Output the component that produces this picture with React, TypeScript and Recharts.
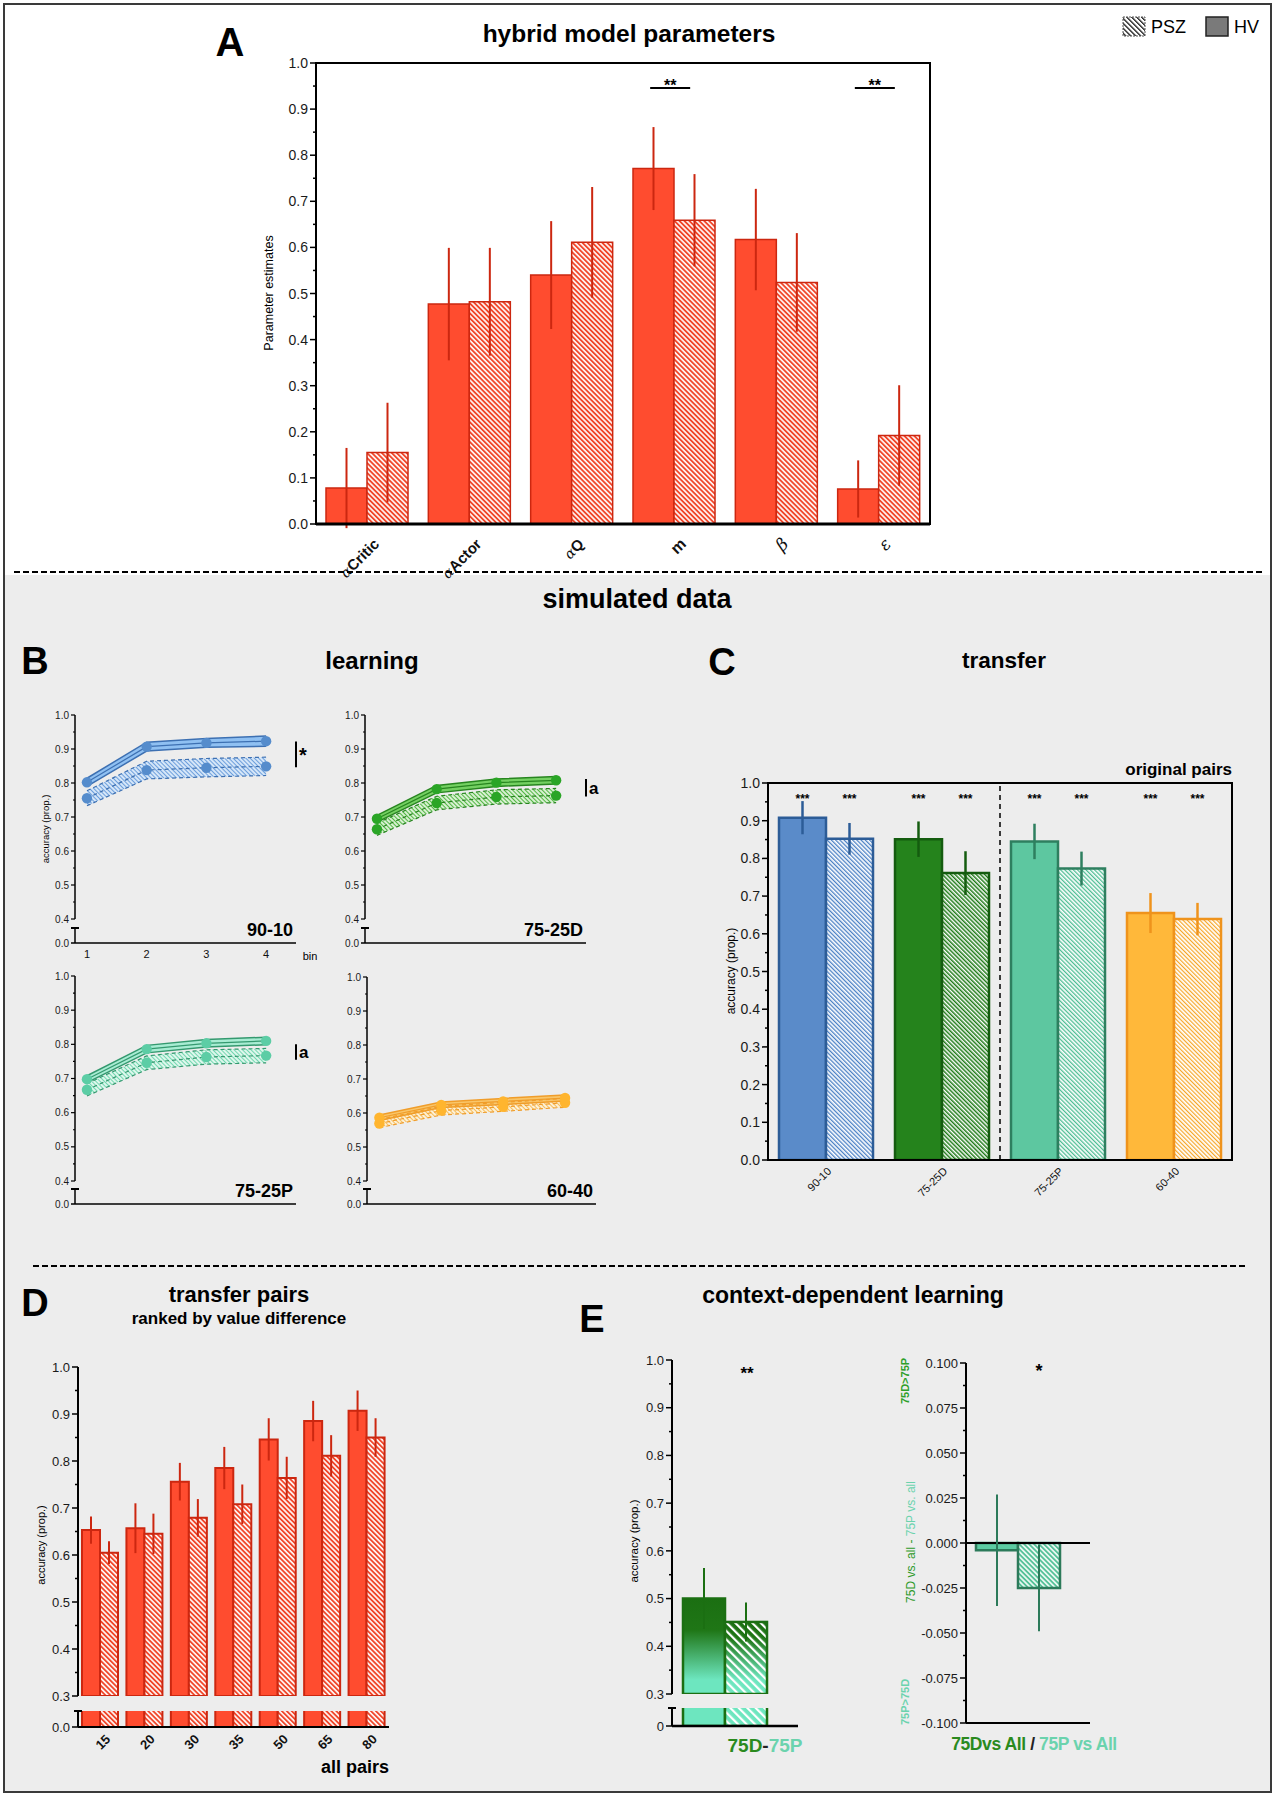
import React from 'react';
import { ComposedChart, Bar, XAxis, YAxis, ErrorBar, Scatter, ReferenceLine, ReferenceArea, Line, Area } from 'recharts';

const FONT = "'Liberation Sans', Arial, Helvetica, sans-serif";

/* ---------------- Panel A data ---------------- */
const paramCategories = ['αCritic', 'αActor', 'αQ', 'm', 'β', 'ε'];
const hvParamValues = [0.078, 0.477, 0.54, 0.771, 0.617, 0.076];
const hvParamErrors = [0.087, 0.122, 0.117, 0.09, 0.11, 0.062];
const pszParamValues = [0.155, 0.482, 0.611, 0.659, 0.524, 0.192];
const pszParamErrors = [0.108, 0.117, 0.12, 0.1, 0.107, 0.109];
const paramSignificance = ['', '', '', '**', '', '**'];
const paramSigLevel = 0.946;
const ticks0to1 = [0, 0.05, 0.1, 0.15, 0.2, 0.25, 0.3, 0.35, 0.4, 0.45, 0.5, 0.55, 0.6, 0.65, 0.7, 0.75, 0.8, 0.85, 0.9, 0.95, 1];

/* ---------------- Panel B data ---------------- */
const learnBins = [1, 2, 3, 4];
const learnPairNames = ['90-10', '75-25D', '75-25P', '60-40'];
const hvLearn9010 = [0.802, 0.907, 0.918, 0.923];
const hvBand9010 = [0.012, 0.013, 0.013, 0.015];
const pszLearn9010 = [0.755, 0.838, 0.845, 0.849];
const pszBand9010 = [0.022, 0.026, 0.027, 0.027];
const hvLearn7525D = [0.695, 0.782, 0.801, 0.808];
const hvBand7525D = [0.01, 0.011, 0.011, 0.011];
const pszLearn7525D = [0.664, 0.741, 0.759, 0.763];
const pszBand7525D = [0.018, 0.02, 0.021, 0.021];
const hvLearn7525P = [0.698, 0.786, 0.803, 0.81];
const hvBand7525P = [0.01, 0.011, 0.011, 0.011];
const pszLearn7525P = [0.667, 0.746, 0.763, 0.767];
const pszBand7525P = [0.018, 0.02, 0.021, 0.021];
const hvLearn6040 = [0.586, 0.624, 0.634, 0.644];
const hvBand6040 = [0.008, 0.008, 0.009, 0.009];
const pszLearn6040 = [0.569, 0.607, 0.618, 0.63];
const pszBand6040 = [0.012, 0.013, 0.013, 0.013];
const learnSigText = ['*', 'a', 'a', ''];
const learnSigLow = [0.846, 0.76, 0.755, 0];
const learnSigHigh = [0.922, 0.812, 0.8, 0];
const learnBinEdge = 4.5;
const learnTicks = [0.4, 0.45, 0.5, 0.55, 0.6, 0.65, 0.7, 0.75, 0.8, 0.85, 0.9, 0.95, 1];

/* ---------------- Panel C data ---------------- */
const transferCategories = ['90-10', '75-25D', '75-25P', '60-40'];
const hvTransfer = [0.908, 0.851, 0.845, 0.655];
const hvTransferErr = [0.044, 0.047, 0.047, 0.053];
const pszTransfer = [0.852, 0.761, 0.773, 0.639];
const pszTransferErr = [0.042, 0.058, 0.045, 0.043];
const transferGroupSig = ['a', '*', '*', ''];
const transferBarSig = ['***', '***', '***', '***'];
const transferBarSigLevel = 0.961;
const transferDividerBefore = '75-25P';

/* ---------------- Panel D data ---------------- */
const pairCategories = ['15', '20', '30', '35', '50', '65', '80'];
const hvPairs = [0.653, 0.657, 0.756, 0.785, 0.846, 0.885, 0.907];
const hvPairsErr = [0.029, 0.053, 0.04, 0.045, 0.045, 0.043, 0.043];
const pszPairs = [0.605, 0.645, 0.679, 0.708, 0.764, 0.811, 0.85];
const pszPairsErr = [0.024, 0.043, 0.04, 0.042, 0.045, 0.044, 0.041];
const pairSignificance = ['**', '', '**', '*', '**', '*', 'a'];
const ticks03to1 = [0.3, 0.35, 0.4, 0.45, 0.5, 0.55, 0.6, 0.65, 0.7, 0.75, 0.8, 0.85, 0.9, 0.95, 1];
const stubTicks = [0, 0.01];

/* ---------------- Panel E data ---------------- */
const contextCategories = ['75D-75P'];
const hvContext = [0.5];
const hvContextErr = [0.064];
const pszContext = [0.451];
const pszContextErr = [0.041];
const contextSig = ['**'];
const contextSigLevel = 0.977;
const diffCategories = ['75D vs All / 75P vs All'];
const hvDiff = [-0.004];
const hvDiffErr = [0.031];
const pszDiff = [-0.025];
const pszDiffErr = [0.024];
const diffSig = ['*'];
const diffSigLevel = 0.097;
const diffTicks = [-0.1, -0.0875, -0.075, -0.0625, -0.05, -0.0375, -0.025, -0.0125, 0, 0.0125, 0.025, 0.0375, 0.05, 0.0625, 0.075, 0.0875, 0.1];

/* ---------------- styles ---------------- */
const RED = '#ff4c2f';
const RED_DARK = '#cc2710';
const transferFill = ['#5a8bc9', '#25831c', '#5dc7a0', '#ffb83a'];
const transferStroke = ['#2c5c97', '#145c0f', '#2e7f5f', '#ef931c'];
const transferHatch = ['url(#hatchBlue)', 'url(#hatchGreen)', 'url(#hatchTeal)', 'url(#hatchOrange)'];
const learnPalettes = [
  { dot: '#558ccc', line: '#3d70b2', band: '#8fc0f2', pszFill: 'url(#bandBlue)' },
  { dot: '#2aa526', line: '#27851f', band: '#74d062', pszFill: 'url(#bandGreen)' },
  { dot: '#5ccda5', line: '#34996f', band: '#a8ecd3', pszFill: 'url(#bandTeal)' },
  { dot: '#ffb52f', line: '#f09d2a', band: '#f9c66a', pszFill: 'url(#bandOrange)' },
];
const DKGREEN = '#1b6f12';
const TEAL_LIGHT = '#6de6bf';
const TEAL_E = '#5ccca2';
const TEAL_E_DARK = '#2c7a5a';

/* ---------------- helpers ---------------- */
function hatch(id: string, line: string, bg: string, size = 4, lw = 2) {
  return (
    <pattern key={id} id={id} patternUnits="userSpaceOnUse" width={size} height={size} patternTransform="rotate(-45)">
      {bg !== 'none' && <rect x={0} y={0} width={size} height={size} fill={bg} />}
      <rect x={0} y={0} width={lw} height={size} fill={line} />
    </pattern>
  );
}

const Defs = () => (
  <svg width={0} height={0} style={{ position: 'absolute', left: 0, top: 0 }}>
    <defs>
      {hatch('hatchRed', '#f0462a', '#fff4f2', 3.5, 1.8)}
      {hatch('hatchBlue', '#4a80c4', '#ffffff', 3, 1.3)}
      {hatch('hatchGreen', '#1e7a17', '#ffffff', 3, 1.5)}
      {hatch('hatchTeal', '#4dbd93', '#ffffff', 3, 1.3)}
      {hatch('hatchOrange', '#f6a628', '#ffffff', 3, 1.2)}
      {hatch('hatchTealE', '#4fbf95', '#e8f7f0', 3.5, 1.7)}
      {hatch('bandBlue', '#6d9fdc', '#d5e6f8', 3, 1)}
      {hatch('bandGreen', '#53b744', '#d8f0d2', 3, 1)}
      {hatch('bandTeal', '#73d7b1', '#def7ec', 3, 1)}
      {hatch('bandOrange', '#f5bd5c', '#fdf0d6', 3, 1)}
      {hatch('stripesWhite', '#ffffff', 'none', 6, 2.2)}
      {hatch('tealStripes', '#ffffff', TEAL_LIGHT, 6, 2.2)}
      {hatch('legendHatch', '#000000', '#ffffff', 3.5, 1.2)}
      <linearGradient id="gradHV" x1="0" y1="0" x2="0" y2="1">
        <stop offset="0" stopColor={DKGREEN} />
        <stop offset="0.33" stopColor="#1f7616" />
        <stop offset="0.85" stopColor={TEAL_LIGHT} />
        <stop offset="1" stopColor={TEAL_LIGHT} />
      </linearGradient>
      <linearGradient id="gradPSZ" x1="0" y1="0" x2="0" y2="1">
        <stop offset="0" stopColor={DKGREEN} />
        <stop offset="0.22" stopColor="#1f7616" />
        <stop offset="0.8" stopColor={TEAL_LIGHT} />
        <stop offset="1" stopColor={TEAL_LIGHT} />
      </linearGradient>
    </defs>
  </svg>
);

type TxtProps = { x: number; y: number; size?: number; bold?: boolean; anchor?: 'start' | 'middle' | 'end'; color?: string; rotate?: number; italic?: boolean; spacing?: number; children: any };
const Txt = ({ x, y, size = 14, bold = false, anchor = 'middle', color = '#000', rotate = 0, italic = false, spacing = 0, children }: TxtProps) => {
  const tx = anchor === 'middle' ? '-50%' : anchor === 'end' ? '-100%' : '0';
  return (
    <div
      style={{
        position: 'absolute', left: x, top: y, transform: `translate(${tx}, -50%) rotate(${rotate}deg)`,
        fontSize: size, fontWeight: bold ? 'bold' : 'normal', fontStyle: italic ? 'italic' : 'normal', color,
        whiteSpace: 'nowrap', lineHeight: 1, fontFamily: FONT, letterSpacing: spacing,
      }}
    >
      {children}
    </div>
  );
};

function makeYTick(fs: number, fmt: (v: number) => string, step: number, majorLen = 6, minorLen = 3, sw = 1.5) {
  return (p: any) => {
    const v = Number(p.payload.value);
    const r = v / step;
    const major = Math.abs(r - Math.round(r)) < 1e-6;
    const len = major ? majorLen : minorLen;
    return (
      <g>
        <line x1={p.x - len} x2={p.x} y1={p.y} y2={p.y} stroke="#000" strokeWidth={sw} />
        {major && (
          <text x={p.x - len - 2} y={p.y} dy={fs * 0.36} textAnchor="end" fontSize={fs} fontFamily={FONT} fill="#1a1a1a">
            {fmt(v)}
          </text>
        )}
      </g>
    );
  };
}

function makeStubTick(fs: number, label: string, tickLen = 6) {
  return (p: any) => {
    const v = Number(p.payload.value);
    if (v === 0) {
      return (
        <g>
          <line x1={p.x - tickLen} x2={p.x} y1={p.y} y2={p.y} stroke="#000" strokeWidth={1.5} />
          <text x={p.x - tickLen - 2} y={p.y} dy={fs * 0.36} textAnchor="end" fontSize={fs} fontFamily={FONT} fill="#1a1a1a">{label}</text>
        </g>
      );
    }
    return <line x1={p.x - 4} x2={p.x + 4} y1={p.y} y2={p.y} stroke="#000" strokeWidth={2} />;
  };
}

function makeRotTick(fs: number, dx: number, dy: number, bold: boolean) {
  return (p: any) => {
    const x = p.x + dx;
    const y = p.y + dy;
    return (
      <text x={x} y={y} transform={`rotate(-45, ${x}, ${y})`} textAnchor="end" fontSize={fs} fontWeight={bold ? 'bold' : 'normal'} fontFamily={FONT} fill="#111">
        {p.payload.value}
      </text>
    );
  };
}

const paramTick = (p: any) => {
  const x = p.x + 13;
  const y = p.y + 21;
  const s: string = String(p.payload.value);
  const greek = s.startsWith('α');
  const latin = /^[A-Za-z]+$/.test(s);
  return (
    <text x={x} y={y} transform={`rotate(-45, ${x}, ${y})`} textAnchor="end" fontSize={15} fontWeight="bold" fontFamily={FONT} fill="#111">
      {greek ? (
        <>
          <tspan fontStyle="italic" fontWeight="normal" fontSize={14} fontFamily="'DejaVu Serif', serif">α</tspan>
          <tspan>{s.slice(1)}</tspan>
        </>
      ) : latin ? (
        <tspan fontSize={16}>{s}</tspan>
      ) : (
        <tspan fontStyle="italic" fontWeight="normal" fontSize={17} fontFamily="'DejaVu Serif', serif">{s}</tspan>
      )}
    </text>
  );
};

function makeSigShape(o: { key: string; w: number; dy: number; fs: number; dx?: number }) {
  return (p: any) => {
    const s = p.payload ? p.payload[o.key] : '';
    if (!s) return <g />;
    const cx = p.cx + (o.dx ?? 0);
    const ly = p.cy + o.dy;
    const star = /^\*+$/.test(s);
    const ty = o.w > 0 ? (star ? ly + o.fs * 0.22 : ly - 3) : ly + o.fs * 0.45;
    return (
      <g>
        {o.w > 0 && <line x1={cx - o.w / 2} x2={cx + o.w / 2} y1={ly} y2={ly} stroke="#000" strokeWidth={2} />}
        <text x={cx} y={ty} textAnchor="middle" fontSize={o.fs} fontWeight="bold" fontFamily={FONT} fill="#000">{s}</text>
      </g>
    );
  };
}

const Abs = ({ x, y, children }: { x: number; y: number; children: any }) => (
  <div style={{ position: 'absolute', left: x, top: y }}>{children}</div>
);

/* ---------------- Panel A ---------------- */
const paramData = paramCategories.map((cat, i) => ({
  cat, hv: hvParamValues[i], hvErr: hvParamErrors[i], psz: pszParamValues[i], pszErr: pszParamErrors[i],
  sig: paramSignificance[i], sigY: paramSigLevel,
}));

const PanelA = () => (
  <Abs x={230} y={40}>
    <ComposedChart width={740} height={556} data={paramData} margin={{ top: 23, right: 40, bottom: 0, left: 26 }} barCategoryGap={10} barGap={0}>
      <XAxis dataKey="cat" interval={0} tickLine={false} tickSize={0} tickMargin={0} height={72} axisLine={{ stroke: '#000', strokeWidth: 3 }} tick={paramTick} />
      <YAxis type="number" domain={[0, 1]} ticks={ticks0to1} interval={0} width={60} tickLine={false} tickSize={0} tickMargin={0}
        axisLine={{ stroke: '#000', strokeWidth: 2 }} tick={makeYTick(14, (v) => v.toFixed(1), 0.1, 6, 3)} allowDataOverflow />
      <ReferenceArea y1={0} y2={1} fill="none" fillOpacity={0} stroke="#000" strokeWidth={2} ifOverflow="visible" />
      <Bar dataKey="hv" fill={RED} stroke={RED_DARK} strokeWidth={1.5} isAnimationActive={false}>
        <ErrorBar dataKey="hvErr" width={0} stroke={RED_DARK} strokeWidth={2} direction="y" />
      </Bar>
      <Bar dataKey="psz" fill="url(#hatchRed)" stroke={RED_DARK} strokeWidth={1.5} isAnimationActive={false}>
        <ErrorBar dataKey="pszErr" width={0} stroke={RED_DARK} strokeWidth={2} direction="y" />
      </Bar>
      <Scatter dataKey="sigY" isAnimationActive={false} shape={makeSigShape({ key: 'sig', w: 40, dy: 0, fs: 16, dx: -4 })} />
    </ComposedChart>
  </Abs>
);

/* ---------------- Panel B ---------------- */
type LearnCfg = {
  idx: number; x0: number; right: number; top: number; y04: number; y00: number;
  hv: number[]; hvBand: number[]; psz: number[]; pszBand: number[]; bins: boolean;
};

const LearningPlot = (c: LearnCfg) => {
  const pal = learnPalettes[c.idx];
  const data = learnBins.map((b, i) => ({
    bin: b, hv: c.hv[i], hvRange: [c.hv[i] - c.hvBand[i], c.hv[i] + c.hvBand[i]],
    psz: c.psz[i], pszRange: [c.psz[i] - c.pszBand[i], c.psz[i] + c.pszBand[i]],
  }));
  const YW = 40;
  const MR = 40;
  const pw = c.right - c.x0;
  const width = YW + pw + MR;
  const stubH = 15;
  const xh = c.bins ? 22 : 9;
  const sigText = learnSigText[c.idx];
  return (
    <>
      <Abs x={c.x0 - YW} y={c.top - 10}>
        <ComposedChart width={width} height={c.y04 - c.top + 20} data={data} margin={{ top: 10, right: MR, bottom: 10, left: 0 }}>
          <XAxis type="number" dataKey="bin" domain={[0.8, learnBinEdge]} hide allowDataOverflow />
          <YAxis type="number" domain={[0.4, 1]} ticks={learnTicks} interval={0} width={YW} tickLine={false} tickSize={0} tickMargin={0}
            axisLine={{ stroke: '#000', strokeWidth: 1.5 }} tick={makeYTick(10, (v) => v.toFixed(1), 0.1, 4, 2, 1.2)} allowDataOverflow />
          <Area type="linear" dataKey="pszRange" fill={pal.pszFill} fillOpacity={1} stroke="none" isAnimationActive={false} />
          <Line type="linear" dataKey={(d: any) => d.pszRange[0]} stroke={pal.line} strokeWidth={1.2} strokeDasharray="4 3" dot={false} activeDot={false} isAnimationActive={false} />
          <Line type="linear" dataKey={(d: any) => d.pszRange[1]} stroke={pal.line} strokeWidth={1.2} strokeDasharray="4 3" dot={false} activeDot={false} isAnimationActive={false} />
          <Line type="linear" dataKey="psz" stroke={pal.line} strokeWidth={1.2} strokeDasharray="4 3" dot={{ r: 5.2, fill: pal.dot, stroke: pal.dot, strokeWidth: 0 }} activeDot={false} isAnimationActive={false} />
          <Area type="linear" dataKey="hvRange" fill={pal.band} fillOpacity={1} stroke="none" isAnimationActive={false} />
          <Line type="linear" dataKey={(d: any) => d.hvRange[0]} stroke={pal.line} strokeWidth={1.5} dot={false} activeDot={false} isAnimationActive={false} />
          <Line type="linear" dataKey={(d: any) => d.hvRange[1]} stroke={pal.line} strokeWidth={1.5} dot={false} activeDot={false} isAnimationActive={false} />
          <Line type="linear" dataKey="hv" stroke={pal.line} strokeWidth={1.2} dot={{ r: 5.2, fill: pal.dot, stroke: pal.dot, strokeWidth: 0 }} activeDot={false} isAnimationActive={false} />
          {sigText && (
            <ReferenceLine
              segment={[{ x: learnBinEdge, y: learnSigLow[c.idx] }, { x: learnBinEdge, y: learnSigHigh[c.idx] }]}
              stroke="#000" strokeWidth={2} ifOverflow="visible"
              label={{ value: sigText, position: 'right', fontSize: sigText === '*' ? 20 : 17, fontWeight: 'bold', fill: '#000', offset: 3, fontFamily: FONT }}
            />
          )}
        </ComposedChart>
      </Abs>
      <Abs x={c.x0 - YW} y={c.y00 - stubH - 5}>
        <ComposedChart width={width} height={5 + stubH + xh} data={data} margin={{ top: 5, right: MR, bottom: 0, left: 0 }}>
          <XAxis type="number" dataKey="bin" domain={[0.8, learnBinEdge]} ticks={learnBins} interval={0} height={xh} tickLine={false}
            tickSize={0} tickMargin={0} axisLine={{ stroke: '#000', strokeWidth: 1.5 }} allowDataOverflow
            tick={c.bins ? (p: any) => (<text x={p.x} y={p.y + 15} textAnchor="middle" fontSize={11} fontFamily={FONT} fill="#111">{p.payload.value}</text>) : false} />
          <YAxis type="number" domain={[0, 0.01]} ticks={stubTicks} interval={0} width={YW} tickLine={false} tickSize={0} tickMargin={0}
            axisLine={{ stroke: '#000', strokeWidth: 1.5 }} tick={makeStubTick(10, '0.0', 4)} allowDataOverflow />
        </ComposedChart>
      </Abs>
      <Txt x={c.right - 3} y={c.y00 - 13} size={18} bold anchor="end">{learnPairNames[c.idx]}</Txt>
    </>
  );
};

/* ---------------- Panel C ---------------- */
const transferData = transferCategories.map((cat, i) => {
  const row: any = { cat, sig: transferGroupSig[i], sigY: 1, star: transferBarSig[i], starY: transferBarSigLevel };
  row[`hv${i}`] = hvTransfer[i];
  row[`hvErr${i}`] = hvTransferErr[i];
  row[`psz${i}`] = pszTransfer[i];
  row[`pszErr${i}`] = pszTransferErr[i];
  return row;
});

const PanelC = () => (
  <Abs x={708} y={743}>
    <ComposedChart width={534} height={462} data={transferData} margin={{ top: 40, right: 10, bottom: 0, left: 0 }} barCategoryGap={11} barGap={0}>
      <XAxis dataKey="cat" interval={0} tickLine={false} tickSize={0} tickMargin={0} height={45} axisLine={{ stroke: '#000', strokeWidth: 2 }} tick={makeRotTick(11, 6, 12, false)} />
      <YAxis type="number" domain={[0, 1]} ticks={ticks0to1} interval={0} width={60} tickLine={false} tickSize={0} tickMargin={0}
        axisLine={{ stroke: '#000', strokeWidth: 2 }} tick={makeYTick(14, (v) => v.toFixed(1), 0.1, 6, 3)} allowDataOverflow />
      <ReferenceArea y1={0} y2={1} fill="none" fillOpacity={0} stroke="#000" strokeWidth={2} ifOverflow="visible" />
      <ReferenceLine x={transferDividerBefore} position="start" stroke="#000" strokeWidth={1.5} strokeDasharray="5 4" />
      {transferCategories.map((_, i) => (
        <Bar key={`hv${i}`} dataKey={`hv${i}`} stackId="hv" fill={transferFill[i]} stroke={transferStroke[i]} strokeWidth={2.5} isAnimationActive={false}>
          <ErrorBar dataKey={`hvErr${i}`} width={0} stroke={transferStroke[i]} strokeWidth={2.5} direction="y" />
        </Bar>
      ))}
      {transferCategories.map((_, i) => (
        <Bar key={`psz${i}`} dataKey={`psz${i}`} stackId="psz" fill={transferHatch[i]} stroke={transferStroke[i]} strokeWidth={2.5} isAnimationActive={false}>
          <ErrorBar dataKey={`pszErr${i}`} width={0} stroke={transferStroke[i]} strokeWidth={2.5} direction="y" />
        </Bar>
      ))}
      <Scatter dataKey="sigY" isAnimationActive={false} shape={makeSigShape({ key: 'sig', w: 40, dy: -12, fs: 17, dx: -6 })} />
      <Scatter dataKey="starY" isAnimationActive={false} shape={makeSigShape({ key: 'star', w: 0, dy: 0, fs: 12, dx: -23.5 })} />
      <Scatter dataKey="starY" isAnimationActive={false} shape={makeSigShape({ key: 'star', w: 0, dy: 0, fs: 12, dx: 23.5 })} />
    </ComposedChart>
  </Abs>
);

/* ---------------- Panel D ---------------- */
const pairData = pairCategories.map((cat, i) => ({
  cat, hv: hvPairs[i], hvErr: hvPairsErr[i], psz: pszPairs[i], pszErr: pszPairsErr[i], sig: pairSignificance[i], sigY: 1,
}));

const PanelD = () => (
  <>
    <Abs x={33} y={1337}>
      <ComposedChart width={366} height={367} data={pairData} margin={{ top: 30, right: 10, bottom: 8, left: 0 }} barCategoryGap={4} barGap={0}>
        <XAxis dataKey="cat" hide />
        <YAxis type="number" domain={[0.3, 1]} ticks={ticks03to1} interval={0} width={45} tickLine={false} tickSize={0} tickMargin={0}
          axisLine={{ stroke: '#000', strokeWidth: 2 }} tick={makeYTick(13, (v) => v.toFixed(1), 0.1, 6, 3)} allowDataOverflow />
        <Bar dataKey="hv" fill={RED} stroke={RED_DARK} strokeWidth={2} isAnimationActive={false}>
          <ErrorBar dataKey="hvErr" width={0} stroke={RED_DARK} strokeWidth={2} direction="y" />
        </Bar>
        <Bar dataKey="psz" fill="url(#hatchRed)" stroke={RED_DARK} strokeWidth={2} isAnimationActive={false}>
          <ErrorBar dataKey="pszErr" width={0} stroke={RED_DARK} strokeWidth={2} direction="y" />
        </Bar>
        <Scatter dataKey="sigY" isAnimationActive={false} shape={makeSigShape({ key: 'sig', w: 17, dy: -12, fs: 14 })} />
      </ComposedChart>
    </Abs>
    <Abs x={33} y={1706}>
      <ComposedChart width={366} height={53} data={pairData} margin={{ top: 5, right: 10, bottom: 0, left: 0 }} barCategoryGap={4} barGap={0}>
        <XAxis dataKey="cat" interval={0} tickLine={false} tickSize={0} tickMargin={0} height={32} axisLine={{ stroke: '#000', strokeWidth: 2 }} tick={makeRotTick(13, 11, 13, true)} />
        <YAxis type="number" domain={[0, 0.01]} ticks={stubTicks} interval={0} width={45} tickLine={false} tickSize={0} tickMargin={0}
          axisLine={{ stroke: '#000', strokeWidth: 2 }} tick={makeStubTick(13, '0.0', 6)} allowDataOverflow />
        <Bar dataKey="hv" fill={RED} stroke={RED_DARK} strokeWidth={2} isAnimationActive={false} />
        <Bar dataKey="psz" fill="url(#hatchRed)" stroke={RED_DARK} strokeWidth={2} isAnimationActive={false} />
      </ComposedChart>
    </Abs>
  </>
);

/* ---------------- Panel E ---------------- */
const contextData = contextCategories.map((cat, i) => ({
  cat, hv: hvContext[i], hvErr: hvContextErr[i], psz: pszContext[i], pszErr: pszContextErr[i], sig: contextSig[i], sigY: contextSigLevel,
}));
const diffData = diffCategories.map((cat, i) => ({
  cat, hv: hvDiff[i], hvErr: hvDiffErr[i], psz: pszDiff[i], pszErr: pszDiffErr[i], sig: diffSig[i], sigY: diffSigLevel,
}));

const pszContextShape = (p: any) => {
  if (!p.height || p.height <= 0) return <g />;
  return (
    <g>
      <rect x={p.x} y={p.y} width={p.width} height={p.height} fill="url(#gradPSZ)" />
      <rect x={p.x} y={p.y} width={p.width} height={p.height} fill="url(#stripesWhite)" />
      <rect x={p.x} y={p.y} width={p.width} height={p.height} fill="none" stroke={DKGREEN} strokeWidth={2.5} />
    </g>
  );
};

const PanelE = () => (
  <>
    <Abs x={622} y={1350}>
      <ComposedChart width={186} height={352} data={contextData} margin={{ top: 10, right: 10, bottom: 8, left: 0 }} barCategoryGap={11} barGap={0}>
        <XAxis dataKey="cat" hide padding={{ left: 0, right: 20 }} />
        <YAxis type="number" domain={[0.3, 1]} ticks={ticks03to1} interval={0} width={50} tickLine={false} tickSize={0} tickMargin={0}
          axisLine={{ stroke: '#000', strokeWidth: 2 }} tick={makeYTick(13, (v) => v.toFixed(1), 0.1, 6, 3)} allowDataOverflow />
        <Bar dataKey="hv" fill="url(#gradHV)" stroke={DKGREEN} strokeWidth={2.5} isAnimationActive={false}>
          <ErrorBar dataKey="hvErr" width={0} stroke={DKGREEN} strokeWidth={2} direction="y" />
        </Bar>
        <Bar dataKey="psz" shape={pszContextShape} isAnimationActive={false}>
          <ErrorBar dataKey="pszErr" width={0} stroke={DKGREEN} strokeWidth={2} direction="y" />
        </Bar>
        <Scatter dataKey="sigY" isAnimationActive={false} shape={makeSigShape({ key: 'sig', w: 0, dy: 0, fs: 17, dx: 22 })} />
      </ComposedChart>
    </Abs>
    <Abs x={622} y={1703}>
      <ComposedChart width={186} height={30} data={contextData} margin={{ top: 5, right: 10, bottom: 0, left: 0 }} barCategoryGap={11} barGap={0}>
        <XAxis dataKey="cat" tick={false} tickLine={false} height={7} padding={{ left: 0, right: 20 }} axisLine={{ stroke: '#000', strokeWidth: 2.5 }} />
        <YAxis type="number" domain={[0, 0.01]} ticks={stubTicks} interval={0} width={50} tickLine={false} tickSize={0} tickMargin={0}
          axisLine={{ stroke: '#000', strokeWidth: 2 }} tick={makeStubTick(13, '0', 6)} allowDataOverflow />
        <Bar dataKey="hv" fill={TEAL_LIGHT} stroke={DKGREEN} strokeWidth={2.5} isAnimationActive={false} />
        <Bar dataKey="psz" fill="url(#tealStripes)" stroke={DKGREEN} strokeWidth={2.5} isAnimationActive={false} />
      </ComposedChart>
    </Abs>
    <Abs x={911} y={1353}>
      <ComposedChart width={189} height={380} data={diffData} margin={{ top: 10, right: 10, bottom: 9, left: 0 }} barCategoryGap={10} barGap={0}>
        <XAxis dataKey="cat" tick={false} tickLine={false} height={1} padding={{ left: 0, right: 20 }} axisLine={{ stroke: '#000', strokeWidth: 2 }} />
        <YAxis type="number" domain={[-0.1, 0.1]} ticks={diffTicks} interval={0} width={55} tickLine={false} tickSize={0} tickMargin={0}
          axisLine={{ stroke: '#000', strokeWidth: 2 }} tick={makeYTick(13, (v) => v.toFixed(3), 0.025, 6, 3)} allowDataOverflow />
        <ReferenceLine y={0} stroke="#000" strokeWidth={2} />
        <Bar dataKey="hv" fill={TEAL_E} stroke={TEAL_E_DARK} strokeWidth={2.5} isAnimationActive={false}>
          <ErrorBar dataKey="hvErr" width={0} stroke={TEAL_E_DARK} strokeWidth={2} direction="y" />
        </Bar>
        <Bar dataKey="psz" fill="url(#hatchTealE)" stroke={TEAL_E_DARK} strokeWidth={2.5} isAnimationActive={false}>
          <ErrorBar dataKey="pszErr" width={0} stroke={TEAL_E_DARK} strokeWidth={2} direction="y" />
        </Bar>
        <Scatter dataKey="sigY" isAnimationActive={false} shape={makeSigShape({ key: 'sig', w: 0, dy: 0, fs: 18, dx: 21 })} />
      </ComposedChart>
    </Abs>
  </>
);

/* ---------------- decorations ---------------- */
const Decor = () => (
  <svg width={1275} height={1800} style={{ position: 'absolute', left: 0, top: 0, pointerEvents: 'none' }}>
    <rect x={4} y={4} width={1267} height={1788} fill="none" stroke="#3a3a3a" strokeWidth={2} />
    <line x1={14} x2={1262} y1={572} y2={572} stroke="#000" strokeWidth={2} strokeDasharray="6 3" />
    <line x1={33} x2={1248} y1={1266} y2={1266} stroke="#000" strokeWidth={2} strokeDasharray="6 3" />
    <rect x={1123} y={17} width={22} height={19} fill="url(#legendHatch)" stroke="#555" strokeWidth={1} strokeDasharray="2 1" />
    <rect x={1206} y={17} width={22} height={19} fill="#7a7a7a" stroke="#222" strokeWidth={1.5} />
  </svg>
);

export default function App() {
  return (
    <div style={{ position: 'absolute', left: 0, top: 0, width: 1275, height: 1800, background: '#ffffff', overflow: 'hidden', fontFamily: FONT }}>
      <Defs />
      <div style={{ position: 'absolute', left: 5, top: 575, width: 1265, height: 1216, background: '#ededed' }} />
      <PanelA />
      <Decor />

      {/* Panel A */}
      <Txt x={230} y={42} size={40} bold>A</Txt>
      <Txt x={629} y={34} size={24.5} bold>hybrid model parameters</Txt>
      <Txt x={1151} y={27} size={18} anchor="start">PSZ</Txt>
      <Txt x={1234} y={27} size={18} anchor="start">HV</Txt>
      <Txt x={269} y={293} size={12.5} rotate={-90}>Parameter estimates</Txt>

      {/* simulated data */}
      <Txt x={637} y={599} size={27} bold>simulated data</Txt>

      {/* Panel B */}
      <Txt x={35} y={661} size={38} bold>B</Txt>
      <Txt x={372} y={661} size={24} bold>learning</Txt>
      <Txt x={46} y={829} size={9.5} rotate={-90}>accuracy (prop.)</Txt>
      <LearningPlot idx={0} x0={75} right={296} top={715} y04={919} y00={943} hv={hvLearn9010} hvBand={hvBand9010} psz={pszLearn9010} pszBand={pszBand9010} bins />
      <LearningPlot idx={1} x0={365} right={586} top={715} y04={919} y00={943} hv={hvLearn7525D} hvBand={hvBand7525D} psz={pszLearn7525D} pszBand={pszBand7525D} bins={false} />
      <LearningPlot idx={2} x0={75} right={296} top={976} y04={1181} y00={1204} hv={hvLearn7525P} hvBand={hvBand7525P} psz={pszLearn7525P} pszBand={pszBand7525P} bins={false} />
      <LearningPlot idx={3} x0={367} right={596} top={977} y04={1181} y00={1204} hv={hvLearn6040} hvBand={hvBand6040} psz={pszLearn6040} pszBand={pszBand6040} bins={false} />
      <Txt x={310} y={956} size={11} anchor="middle">bin</Txt>

      {/* Panel C */}
      <Txt x={722} y={662} size={38} bold>C</Txt>
      <Txt x={1004} y={661} size={22.5} bold>transfer</Txt>
      <Txt x={1232} y={769} size={17} bold anchor="end">original pairs</Txt>
      <Txt x={731} y={971} size={12} rotate={-90}>accuracy (prop.)</Txt>
      <PanelC />

      {/* Panel D */}
      <Txt x={35} y={1303} size={38} bold>D</Txt>
      <Txt x={239} y={1295} size={22} bold>transfer pairs</Txt>
      <Txt x={239} y={1318} size={17} bold>ranked by value difference</Txt>
      <Txt x={41} y={1545} size={11} rotate={-90}>accuracy (prop.)</Txt>
      <PanelD />
      <Txt x={389} y={1767} size={18} bold anchor="end">all pairs</Txt>

      {/* Panel E */}
      <Txt x={592} y={1319} size={38} bold>E</Txt>
      <Txt x={853} y={1295} size={23} bold>context-dependent learning</Txt>
      <Txt x={635} y={1541} size={11.5} rotate={-90}>accuracy (prop.)</Txt>
      <PanelE />
      <Txt x={765} y={1745} size={19} bold>
        <span style={{ color: '#2a8a1e' }}>75D</span><span style={{ color: '#222' }}>-</span><span style={{ color: '#6bd3ad' }}>75P</span>
      </Txt>
      <Txt x={1034} y={1745} size={17.5} bold spacing={-0.4}>
        <span style={{ color: '#2a8a1e' }}>75Dvs All</span><span style={{ color: '#222' }}> / </span><span style={{ color: '#6bd3ad' }}>75P vs All</span>
      </Txt>
      <Txt x={905} y={1381} size={11} bold rotate={-90} color="#2ea02a">75D&gt;75P</Txt>
      <Txt x={911} y={1542} size={12} rotate={-90}>
        <span style={{ color: '#2e9a2a' }}>75D vs. all</span><span style={{ color: '#2e9a2a' }}> - </span><span style={{ color: '#6bd3ad' }}>75P vs. all</span>
      </Txt>
      <Txt x={905} y={1702} size={11} bold rotate={-90} color="#6bd3ad">75P&gt;75D</Txt>
    </div>
  );
}
